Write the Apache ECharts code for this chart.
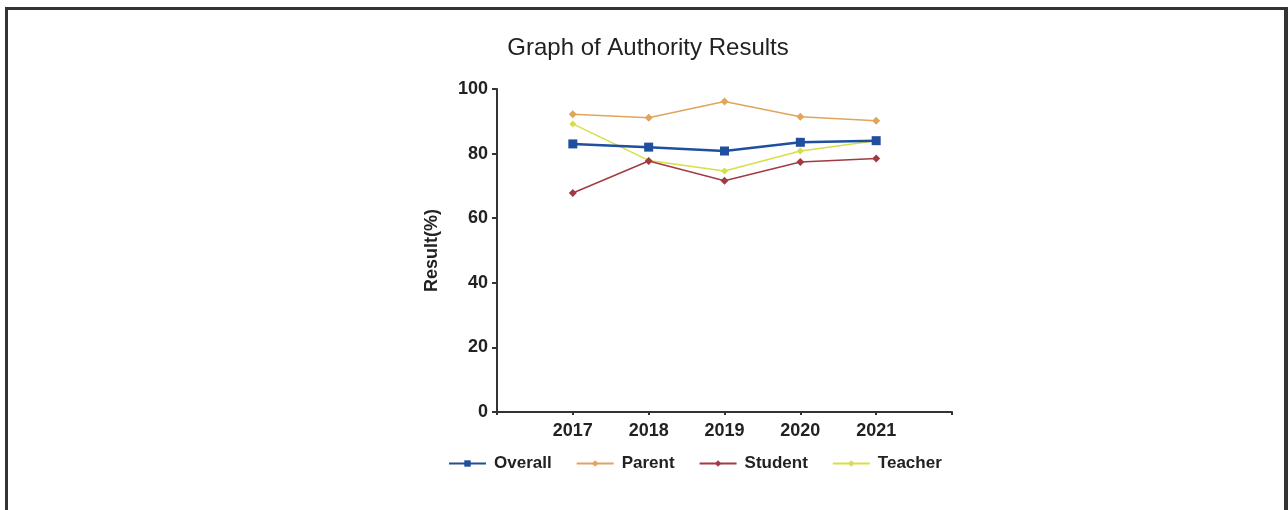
<!DOCTYPE html>
<html><head><meta charset="utf-8">
<script src="https://cdn.jsdelivr.net/npm/echarts@6/dist/echarts.min.js"></script>
<style>
html,body{margin:0;padding:0;background:#fff;}
#frame{position:absolute;left:5px;top:7px;width:1276px;height:520px;border-left:3px solid #333;border-top:3px solid #333;border-right:4px solid #333;}
#chart{position:absolute;left:0;top:0;width:1288px;height:510px;}
</style></head>
<body>
<div id="frame"></div>
<div id="chart"></div>
<script>
const years = [2017, 2018, 2019, 2020, 2021];
const overall = [83.0, 82.0, 80.8, 83.5, 84.0];
const parent = [92.2, 91.1, 96.1, 91.4, 90.2];
const student = [67.8, 77.7, 71.6, 77.4, 78.5];
const teacher = [89.2, 77.9, 74.6, 80.8, 84.0];
const yTicks = [0, 20, 40, 60, 80, 100];

const pairs = v => years.map((y, i) => [y, v[i]]);
const chart = echarts.init(document.getElementById('chart'));
const font = 'Liberation Sans, Arial, sans-serif';
chart.setOption({
  animation: false,
  title: {text: 'Graph of Authority Results', left: 643, top: 31, textAlign: 'center',
    textStyle: {fontFamily: font, fontSize: 24, fontWeight: 'normal', color: '#222'}},
  legend: {left: 443, top: 450, itemWidth: 37, itemHeight: 8, itemGap: 24,
    textStyle: {fontFamily: font, fontSize: 17, fontWeight: 'bold', color: '#222', padding: [0, 0, 0, 3]},
    data: ['Overall', 'Parent', 'Student', 'Teacher']},
  grid: {left: 497, right: 336, top: 89, bottom: 98},
  xAxis: {type: 'value', min: 2016, max: 2022, interval: 1,
    axisLine: {lineStyle: {color: '#333', width: 2}},
    axisTick: {length: 3, lineStyle: {color: '#333', width: 2}},
    splitLine: {show: false},
    axisLabel: {margin: 10, fontFamily: font, fontSize: 18, fontWeight: 'bold', color: '#222',
      formatter: v => (years.indexOf(v) >= 0 ? String(v) : '')}},
  yAxis: {type: 'value', min: 0, max: 100, interval: 20,
    name: 'Result(%)', nameLocation: 'middle', nameGap: 56,
    nameTextStyle: {fontFamily: font, fontSize: 18, fontWeight: 'bold', color: '#222'},
    axisLine: {show: true, lineStyle: {color: '#333', width: 2}},
    axisTick: {show: true, length: 5, lineStyle: {color: '#333', width: 2}},
    splitLine: {show: false},
    axisLabel: {margin: 9, fontFamily: font, fontSize: 18, fontWeight: 'bold', color: '#222',
      formatter: v => (yTicks.indexOf(v) >= 0 ? String(v) : '')}},
  series: [
    {name: 'Overall', type: 'line', data: pairs(overall), symbol: 'rect', symbolSize: 9,
      lineStyle: {width: 2.5, color: '#1f4f9e'}, itemStyle: {color: '#1f4f9e'}, z: 5},
    {name: 'Parent', type: 'line', data: pairs(parent), symbol: 'diamond', symbolSize: 8,
      lineStyle: {width: 1.5, color: '#dfa55a'}, itemStyle: {color: '#dfa55a'}},
    {name: 'Student', type: 'line', data: pairs(student), symbol: 'diamond', symbolSize: 8,
      lineStyle: {width: 1.5, color: '#a23a44'}, itemStyle: {color: '#a23a44'}, z: 4},
    {name: 'Teacher', type: 'line', data: pairs(teacher), symbol: 'diamond', symbolSize: 7,
      lineStyle: {width: 1.5, color: '#d6df45'}, itemStyle: {color: '#d6df45'}, z: 3}
  ]
});
</script>
</body></html>
